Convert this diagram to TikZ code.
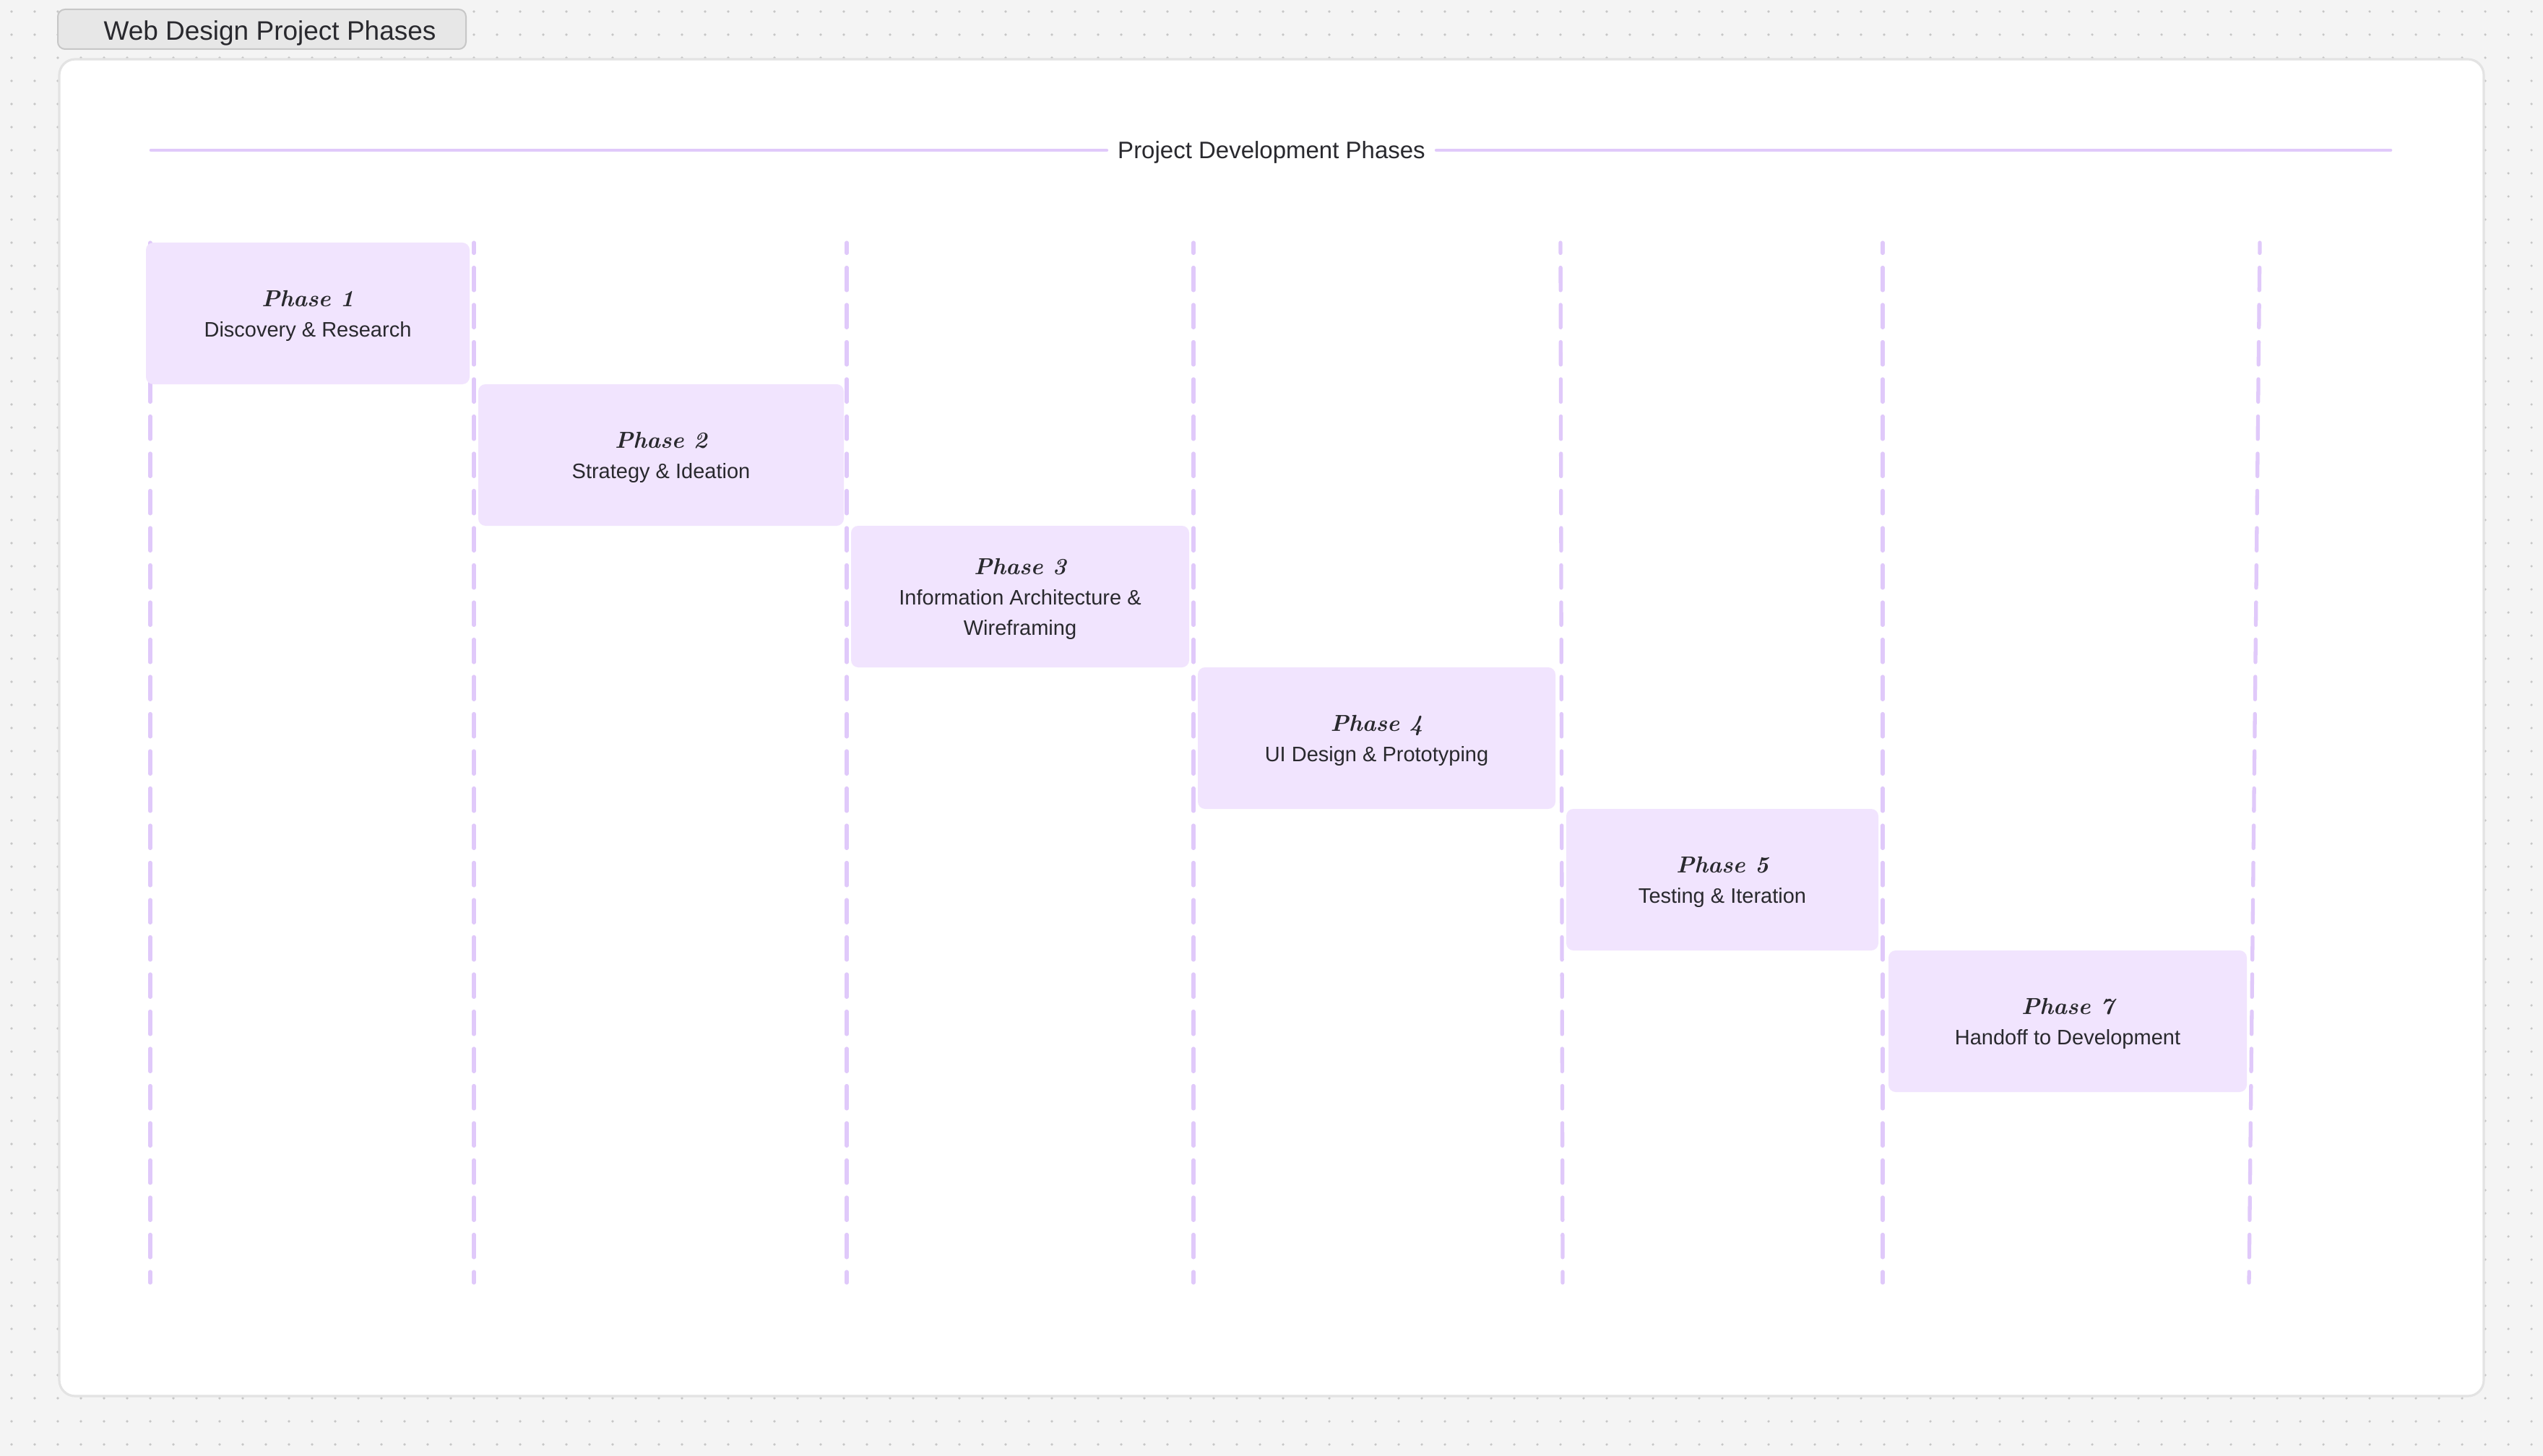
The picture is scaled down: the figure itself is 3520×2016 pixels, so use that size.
\documentclass[tikz,border=0pt]{standalone}
\usepackage{fontspec}
\newfontfamily\uisans{Liberation Sans}
\definecolor{bgc}{HTML}{F4F4F4}
\definecolor{dotc}{HTML}{C6C6C6}
\definecolor{framec}{HTML}{E3E3E3}
\definecolor{lav}{HTML}{E0C9FA}
\definecolor{boxc}{HTML}{F1E4FE}
\definecolor{ink}{HTML}{29292E}
\definecolor{tabfill}{HTML}{E7E7E7}
\definecolor{tabline}{HTML}{C7C7C7}
\newcommand\phaselabel[1]{{\rmfamily\bfseries\itshape\fontsize{16}{21}\selectfont #1}}
\tikzset{
  dotrow/.style={draw=dotc, line width=1.8pt, line cap=round, dash pattern=on 0pt off 16pt},
  framebox/.style={draw=framec, line width=1.6pt, fill=white, rounded corners=11pt},
  tabbox/.style={draw=tabline, fill=tabfill, line width=1pt, rounded corners=5pt, inner ysep=0pt,
    text=ink, font={\uisans\fontsize{18.5}{22}\selectfont}, text height=15.5pt, text depth=0pt},
  guide/.style={draw=lav, line width=2.65pt, line cap=round, dash pattern=on 15.7pt off 10.05pt, dash phase=8.5pt},
  headline/.style={draw=lav, line width=2.3pt, line cap=round},
  headtext/.style={text=ink, font={\uisans\fontsize{16.5}{20}\selectfont}, text height=11.8pt, text depth=0pt,
    inner xsep=7.5pt, inner ysep=0pt},
  phasebox/.style={rectangle, fill=boxc, rounded corners=5pt, minimum height=98pt, inner sep=0pt},
  phasetext/.style={align=center, text=ink, inner sep=0pt, font={\uisans\fontsize{14.5}{21}\selectfont}},
}
\begin{document}
\begin{tikzpicture}[x=0.5pt, y=-0.5pt]
\useasboundingbox (0,0) rectangle (3520,2016);
\fill[bgc] (0,0) rectangle (3520,2016);
\foreach \k in {0,...,62} {
  \draw[dotrow] (16,{16+32*\k}) -- (3520,{16+32*\k});
}
% title tab
\node[tabbox, minimum width=282.5pt, minimum height=27.5pt] (tab) at (362.5,40.5) {\hspace*{11pt}Web Design Project Phases};
% main frame
\draw[framebox] (82,82) rectangle (3438,1933);
% header
\node[headtext] (htitle) at (1760,208) {Project Development Phases};
\coordinate (hl) at (209,208);
\coordinate (hr) at (3309,208);
\draw[headline] (hl) -- (htitle.west);
\draw[headline] (htitle.east) -- (hr);
% guide lines
\coordinate (g1t) at (208,336);  \coordinate (g1b) at (208,1776);
\coordinate (g2t) at (656,336);  \coordinate (g2b) at (656,1776);
\coordinate (g3t) at (1172,336); \coordinate (g3b) at (1172,1776);
\coordinate (g4t) at (1652,336); \coordinate (g4b) at (1652,1776);
\coordinate (g5t) at (2160,336); \coordinate (g5b) at (2163,1776);
\coordinate (g6t) at (2606,336); \coordinate (g6b) at (2606,1776);
\coordinate (g7t) at (3128,336); \coordinate (g7b) at (3113,1776);
\foreach \i in {1,...,7} { \draw[guide] (g\i t) -- (g\i b); }
% phases
\node[phasebox, minimum width=224pt]   (p1) at (426,434) {};
\node[phasebox, minimum width=253pt]   (p2) at (915,630) {};
\node[phasebox, minimum width=234pt]   (p3) at (1412,826) {};
\node[phasebox, minimum width=247.5pt] (p4) at (1905.5,1022) {};
\node[phasebox, minimum width=216pt]   (p5) at (2384,1218) {};
\node[phasebox, minimum width=248pt]   (p7) at (2862,1414) {};
\node[phasetext] (p1l) at ([yshift=-1.65pt]p1.center) {\phaselabel{Phase 1}\\Discovery \& Research};
\node[phasetext] (p2l) at ([yshift=-1.65pt]p2.center) {\phaselabel{Phase 2}\\Strategy \& Ideation};
\node[phasetext] (p3l) at ([yshift=-1.65pt]p3.center) {\phaselabel{Phase 3}\\Information Architecture \&\\Wireframing};
\node[phasetext] (p4l) at ([yshift=-1.65pt]p4.center) {\phaselabel{Phase 4}\\UI Design \& Prototyping};
\node[phasetext] (p5l) at ([yshift=-1.65pt]p5.center) {\phaselabel{Phase 5}\\Testing \& Iteration};
\node[phasetext] (p7l) at ([yshift=-1.65pt]p7.center) {\phaselabel{Phase 7}\\Handoff to Development};
\end{tikzpicture}
\end{document}
